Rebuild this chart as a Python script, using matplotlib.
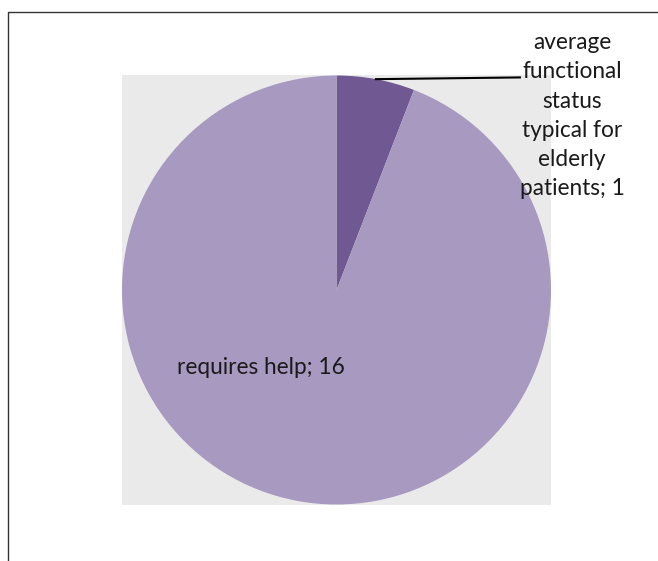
import textwrap
import numpy as np
import matplotlib
matplotlib.use("Agg")
import matplotlib.pyplot as plt
from matplotlib.lines import Line2D

categories = ["average functional status typical for elderly patients", "requires help"]
values = [1, 16]
colors = ["#705892", "#A899C0"]

fig = plt.figure(figsize=(6.58, 5.61), dpi=100)
fig.patch.set_facecolor("white")

ax = fig.add_axes([122 / 658, 56 / 561, 429 / 658, 430 / 561])
wedges, _ = ax.pie(values, colors=colors, startangle=90, counterclock=False,
                   radius=1.0, wedgeprops=dict(linewidth=0))
ax.set_frame_on(True)
ax.set_xlim(-1, 1)
ax.set_ylim(-1, 1)
ax.set_aspect("equal")
ax.set_facecolor("#EAEAEA")
ax.set_xticks([])
ax.set_yticks([])
for s in ax.spines.values():
    s.set_visible(False)

font = dict(family=["Lato", "DejaVu Sans"], fontsize=16.3, color="#1a1a1a")

# small slice label with leader line
w = wedges[0]
mid = np.deg2rad((w.theta1 + w.theta2) / 2)
x0, y0 = np.cos(mid), np.sin(mid)
lab0 = textwrap.fill(f"{categories[0]}; {values[0]}", width=11)
ax.annotate(lab0, xy=(x0, y0), xytext=(1.098, 0.813), ha="center", va="center",
            linespacing=1.48, annotation_clip=False, **font)
ax.add_line(Line2D([x0, 0.855], [y0, 0.991], color="black", lw=1.5, clip_on=False))

# big slice label
ax.text(-0.352, -0.361, f"{categories[1]}; {values[1]}", ha="center", va="center", **font)

# chart border (left and top)
fig.add_artist(Line2D([8 / 658, 8 / 658, 1.0], [0.0, 1 - 12 / 561, 1 - 12 / 561],
                      transform=fig.transFigure, color="#333333", lw=1.0))

fig.savefig("out.png", dpi=100)
